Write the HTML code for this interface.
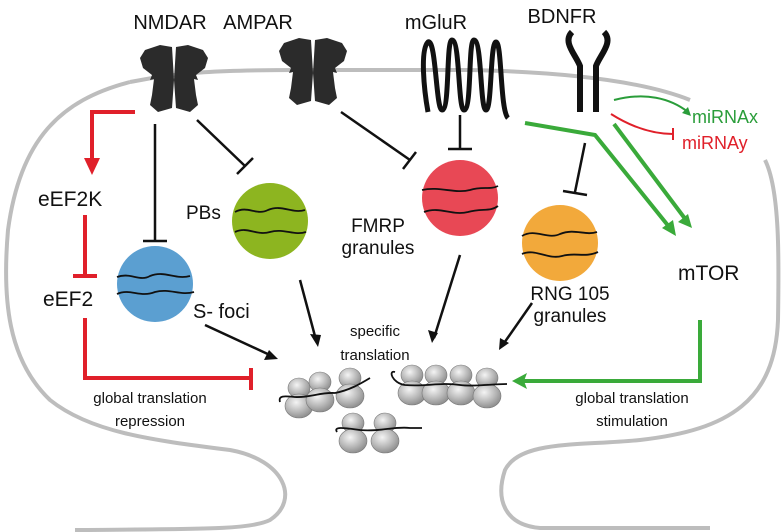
<!DOCTYPE html>
<html><head><style>body{margin:0;background:#fff}svg{display:block}text{font-family:"Liberation Sans",sans-serif}</style></head><body>
<svg width="784" height="532" viewBox="0 0 784 532" xmlns="http://www.w3.org/2000/svg">
<defs>
<radialGradient id="rg" cx="0.4" cy="0.35" r="0.7"><stop offset="0" stop-color="#f4f4f4"/><stop offset="0.6" stop-color="#b5b5b5"/><stop offset="1" stop-color="#888"/></radialGradient>
<g id="rec"><path d="M-2,2 L-14,0 L-29,5 L-34,13 L-31,23 L-22,30 L-24,35 L-20,34 L-22,50 L-24,60 L-16,67 L-2,63 L0,35 Z M2,2 L14,0 L29,5 L34,13 L31,23 L22,30 L24,35 L20,34 L22,50 L24,60 L16,67 L2,63 L0,35 Z" fill="#2b2b2b"/></g>
<g id="rib"><ellipse cx="0" cy="-10" rx="11" ry="10" fill="url(#rg)" stroke="#777" stroke-width="0.6"/><ellipse cx="0" cy="8" rx="14" ry="12" fill="url(#rg)" stroke="#777" stroke-width="0.6"/></g>
</defs>
<g fill="none" stroke="#bdbdbd" stroke-width="4">
<path d="M130,82 C60,100 20,140 8,230 C2,300 8,360 50,400 C90,432 150,440 230,450 C285,460 300,500 270,520 C250,530 200,529 75,530"/>
<path d="M130,82 C180,72 220,70 300,70 L470,70 C560,72 640,80 690,100"/>
<path d="M765,160 C780,190 779,260 778,320 C775,400 730,430 640,440 C580,446 520,440 505,470 C495,500 505,525 540,528 L710,528"/>
</g>
<g font-size="20" fill="#111" text-anchor="middle">
<text x="170" y="29">NMDAR</text><text x="258" y="29">AMPAR</text><text x="436" y="29">mGluR</text><text x="562" y="23">BDNFR</text>
</g>
<use href="#rec" x="174" y="45"/><use href="#rec" x="313" y="38"/>
<path d="M428,112 C424,90 420,50 428,42 C436,38 436,110 442,110 C450,110 446,40 452,40 C460,40 458,110 464,110 C472,110 468,40 474,40 C482,40 480,110 486,110 C492,110 490,42 496,42 C502,42 500,110 508,118" fill="none" stroke="#111" stroke-width="5"/>
<path d="M572,32 C562,42 576,55 580,66 L580,112 M604,32 C614,42 600,55 596,66 L596,112" fill="none" stroke="#111" stroke-width="6"/>
<circle cx="155" cy="284" r="38" fill="#5b9fd1"/><circle cx="270" cy="221" r="38" fill="#8db520"/>
<circle cx="460" cy="198" r="38" fill="#e84855"/><circle cx="560" cy="243" r="38" fill="#f2a93b"/>
<g fill="none" stroke="#111" stroke-width="1.8">
<path d="M117,277 C130,272 140,282 150,276 C165,270 175,280 190,276"/><path d="M117,294 C130,288 140,298 155,292 C170,288 180,296 194,292"/>
<path d="M235,212 C248,205 256,216 268,210 C282,204 292,214 305,210"/><path d="M235,232 C248,226 256,236 270,232 C284,228 294,236 306,232"/>
<path d="M422,190 C440,186 455,194 470,190 C482,186 490,190 498,186"/><path d="M424,212 C440,206 452,216 468,212 C482,208 490,212 498,206"/>
<path d="M522,236 C535,228 548,240 560,234 C575,228 585,236 597,232"/><path d="M522,254 C535,248 548,260 562,256 C575,252 585,258 598,252"/>
</g>
<g font-size="19" fill="#111">
<text x="186" y="219">PBs</text><text x="193" y="318" font-size="20">S- foci</text>
<text x="378" y="232" text-anchor="middle">FMRP</text><text x="378" y="254" text-anchor="middle">granules</text>
<text x="570" y="300" text-anchor="middle">RNG 105</text><text x="570" y="322" text-anchor="middle">granules</text>
<text x="678" y="280" font-size="21">mTOR</text>
<text x="38" y="206" font-size="21">eEF2K</text><text x="43" y="306" font-size="21">eEF2</text>
</g>
<g font-size="15" fill="#111" text-anchor="middle">
<text x="375" y="336">specific</text><text x="375" y="360">translation</text>
<text x="150" y="403">global translation</text><text x="150" y="426">repression</text>
<text x="632" y="403">global translation</text><text x="632" y="426">stimulation</text>
</g>
<text x="692" y="123" font-size="18" fill="#2a9d3a">miRNAx</text>
<text x="682" y="149" font-size="18" fill="#e0202a">miRNAy</text>
<g fill="none" stroke="#e0202a" stroke-width="4">
<path d="M135,112 L92,112 L92,160"/><path d="M85,215 L85,275 M73,276 L97,276"/><path d="M85,318 L85,378 L250,378 M251,368 L251,390"/>
</g>
<path d="M84,158 L100,158 L92,175 Z" fill="#e0202a"/>
<g fill="none" stroke="#111" stroke-width="2.5">
<path d="M155,124 L155,240 M143,241 L167,241"/><path d="M197,120 L245,166 M237,174 L253,158"/>
<path d="M341,112 L410,160 M403,169 L416,152"/><path d="M460,115 L460,148 M448,149 L472,149"/>
<path d="M585,143 L575,192 M563,191 L587,195"/>
<path d="M205,325 L272,356"/><path d="M300,280 L316,340"/><path d="M460,255 L434,338"/><path d="M532,303 L502,346"/>
</g>
<g fill="#111"><path d="M278,359 L264,360 L269,350 Z"/><path d="M318,347 L310,334 L321,335 Z"/><path d="M432,343 L428,330 L438,333 Z"/><path d="M499,350 L500,338 L509,343 Z"/></g>
<g fill="none" stroke="#3aaa3a" stroke-width="4">
<path d="M525,123 L595,135 L670,228"/><path d="M614,124 L686,220"/>
<path d="M700,320 L700,381 L520,381"/>
</g>
<g fill="#3aaa3a"><path d="M676,236 L662,228 L673,220 Z"/><path d="M692,228 L678,222 L688,214 Z"/><path d="M512,381 L527,373 L524,381 L527,389 Z"/></g>
<path d="M614,100 C645,92 670,98 688,112" fill="none" stroke="#2a9d3a" stroke-width="2"/><path d="M691,116 L682,113 L688,107 Z" fill="#2a9d3a"/>
<path d="M611,114 C630,126 650,134 673,134 M673,128 L673,140" fill="none" stroke="#e0202a" stroke-width="2"/>
<use href="#rib" x="299" y="398"/><use href="#rib" x="320" y="392"/><use href="#rib" x="350" y="388"/>
<use href="#rib" x="412" y="385"/><use href="#rib" x="436" y="385"/><use href="#rib" x="461" y="385"/><use href="#rib" x="487" y="388"/>
<use href="#rib" x="353" y="433"/><use href="#rib" x="385" y="433"/>
<g fill="none" stroke="#111" stroke-width="1.8">
<path d="M280,402 C278,395 285,396 295,397 C310,398 320,392 335,393 C350,390 360,384 370,378"/>
<path d="M395,372 C388,370 392,383 405,385 C425,387 440,382 460,385 C475,387 490,384 507,384"/>
<path d="M337,432 C333,426 345,428 360,430 C380,432 395,426 410,428 L422,428"/>
</g>
</svg>
</body></html>
